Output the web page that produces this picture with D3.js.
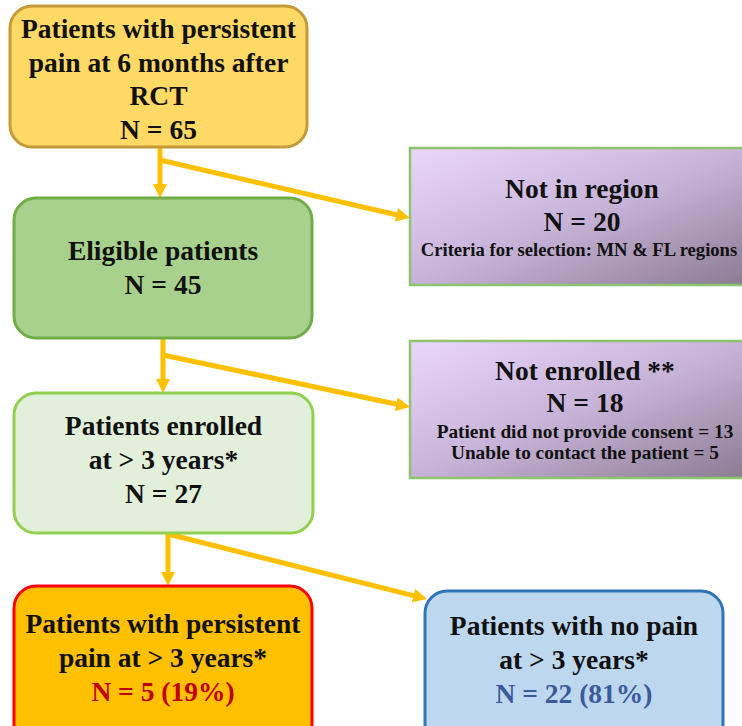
<!DOCTYPE html>
<html>
<head>
<meta charset="utf-8">
<script src="https://cdn.jsdelivr.net/npm/d3@7"></script>
<style>
  html, body { margin: 0; padding: 0; background: #fff; overflow: hidden; }
  svg { display: block; }
</style>
</head>
<body>
<svg id="flow" width="742" height="726"></svg>
<script>
// Flowchart data
const mainLabels = [
  ["Patients with persistent", "pain at 6 months after", "RCT"],
  ["Eligible patients"],
  ["Patients enrolled", "at > 3 years*"]
];
const mainCounts = [65, 45, 27];

const excludedLabels = [["Not in region"], ["Not enrolled **"]];
const excludedCounts = [20, 18];
const excludedNotes = [
  ["Criteria for selection: MN & FL regions"],
  ["Patient did not provide consent = 13", "Unable to contact the patient = 5"]
];

const outcomeLabels = [
  ["Patients with persistent", "pain at > 3 years*"],
  ["Patients with no pain", "at > 3 years*"]
];
const outcomeCounts = [5, 22];

// Layout (positions / styles kept apart from data)
const mainLayout = [
  { x: 10, y: 6,   w: 297, h: 141, fill: "#FFD966", stroke: "#C49B38", base: 38,  gap: 33.5 },
  { x: 14, y: 198, w: 298, h: 140, fill: "#A9D18E", stroke: "#70AD47", base: 260, gap: 34 },
  { x: 14, y: 393, w: 299, h: 140, fill: "#E2EFDA", stroke: "#92D050", base: 435, gap: 34 }
];
const exclLayout = [
  { x: 410, y: 148, w: 344, h: 137, cx: 582, base: 198, gap: 33, noteBase: 256, noteGap: 21, noteCx: 579, noteSize: 18.6 },
  { x: 410, y: 341, w: 344, h: 137, cx: 585, base: 380, gap: 32, noteBase: 438, noteGap: 21, noteCx: 585, noteSize: 19.3 }
];
const outLayout = [
  { x: 14,  y: 586, w: 298, h: 160, fill: "#FFC000", stroke: "#FF0000", nColor: "#C00000", base: 633, gap: 34 },
  { x: 425, y: 591, w: 298, h: 160, fill: "#BDD7EE", stroke: "#2E75B6", nColor: "#3A5A9C", base: 635, gap: 34 }
];
// arrows: [trunk x, trunk top, trunk bottom, branch start y, branch end x, branch end y]
const arrowLayout = [
  [160, 147, 198, 160, 410, 218],
  [163, 338, 393, 355, 410, 407],
  [168, 533, 586, 534, 427, 599]
];

const FONT = "'Liberation Serif', 'Times New Roman', serif";
const BIG = 27.5;
const ARROW = "#FFC000";

const svg = d3.select("#flow");
const defs = svg.append("defs");

const grad = defs.append("linearGradient")
  .attr("id", "purpleGrad")
  .attr("x1", "0%").attr("y1", "0%").attr("x2", "100%").attr("y2", "100%");
grad.append("stop").attr("offset", "0%").attr("stop-color", "#EAD8FB");
grad.append("stop").attr("offset", "50%").attr("stop-color", "#C7B3D8");
grad.append("stop").attr("offset", "100%").attr("stop-color", "#8A7A90");

defs.append("marker")
  .attr("id", "head")
  .attr("viewBox", "0 0 14 14")
  .attr("refX", 2).attr("refY", 7)
  .attr("markerWidth", 14).attr("markerHeight", 14)
  .attr("markerUnits", "userSpaceOnUse")
  .attr("orient", "auto")
  .append("path")
  .attr("d", "M0,0 L14,7 L0,14 Z")
  .attr("fill", ARROW);

// Arrows (drawn first, under boxes)
const arrowG = svg.append("g");
function arrow(x1, y1, x2, y2) {
  const dx = x2 - x1, dy = y2 - y1, len = Math.hypot(dx, dy);
  const ex = x2 - dx / len * 12, ey = y2 - dy / len * 12;
  arrowG.append("line")
    .attr("x1", x1).attr("y1", y1).attr("x2", ex).attr("y2", ey)
    .attr("stroke", ARROW).attr("stroke-width", 5)
    .attr("marker-end", "url(#head)");
}
arrowLayout.forEach(([tx, t0, t1, by, bx, bey]) => {
  arrow(tx, t0, tx, t1);
  arrow(tx, by, bx, bey);
});

function lines(g, arr, cx, base, gap, size, color) {
  arr.forEach((t, i) => {
    g.append("text")
      .attr("x", cx).attr("y", base + i * gap)
      .attr("text-anchor", "middle")
      .attr("font-family", FONT).attr("font-weight", "bold")
      .attr("font-size", size).attr("fill", color)
      .text(t);
  });
}

// Main stages
mainLayout.forEach((L, i) => {
  const g = svg.append("g");
  g.append("rect")
    .attr("x", L.x).attr("y", L.y).attr("width", L.w).attr("height", L.h)
    .attr("rx", 22).attr("ry", 22)
    .attr("fill", L.fill).attr("stroke", L.stroke).attr("stroke-width", 3);
  const txt = mainLabels[i].concat([`N = ${mainCounts[i]}`]);
  lines(g, txt, L.x + L.w / 2, L.base, L.gap, BIG, "#111");
});

// Exclusions
exclLayout.forEach((L, i) => {
  const g = svg.append("g");
  g.append("rect")
    .attr("x", L.x).attr("y", L.y).attr("width", L.w).attr("height", L.h)
    .attr("fill", "url(#purpleGrad)").attr("stroke", "#8DC46F").attr("stroke-width", 2.5);
  const txt = excludedLabels[i].concat([`N = ${excludedCounts[i]}`]);
  lines(g, txt, L.cx, L.base, L.gap, BIG, "#111");
  lines(g, excludedNotes[i], L.noteCx, L.noteBase, L.noteGap, L.noteSize, "#111");
});

// Outcomes
const enrolled = mainCounts[mainCounts.length - 1];
outLayout.forEach((L, i) => {
  const g = svg.append("g");
  g.append("rect")
    .attr("x", L.x).attr("y", L.y).attr("width", L.w).attr("height", L.h)
    .attr("rx", 22).attr("ry", 22)
    .attr("fill", L.fill).attr("stroke", L.stroke).attr("stroke-width", 3);
  const cx = L.x + L.w / 2;
  lines(g, outcomeLabels[i], cx, L.base, L.gap, BIG, "#111");
  const pct = Math.round(outcomeCounts[i] / enrolled * 100);
  lines(g, [`N = ${outcomeCounts[i]} (${pct}%)`], cx, L.base + L.gap * outcomeLabels[i].length, 0, BIG, L.nColor);
});
</script>
</body>
</html>
